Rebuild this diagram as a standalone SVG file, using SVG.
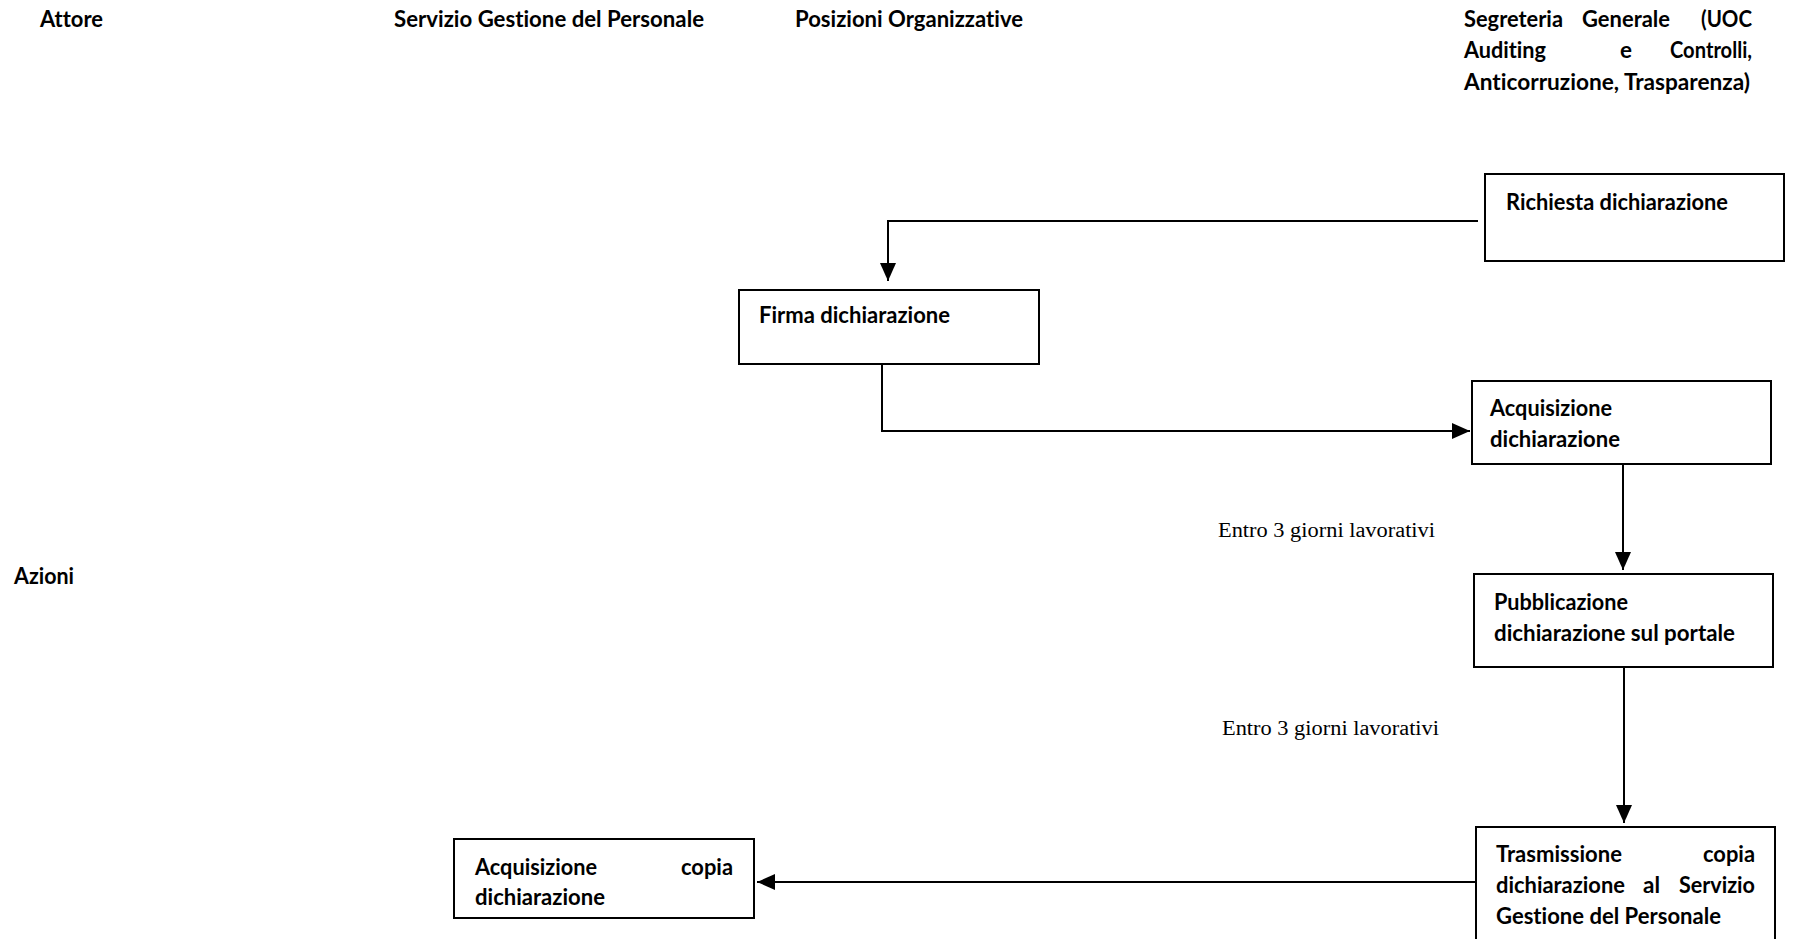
<svg xmlns="http://www.w3.org/2000/svg" width="1812" height="939" viewBox="0 0 1812 939">
<style>
.t{font-family:Lato,"Liberation Sans","DejaVu Sans",sans-serif;font-weight:bold;font-size:23px;fill:#000;font-variant-ligatures:none}
.s{font-family:"Liberation Serif","DejaVu Serif",serif;font-size:20px;fill:#000}
.box{fill:#fff;stroke:#000;stroke-width:2}
.c{fill:none;stroke:#000;stroke-width:2}
</style>
<defs>
<marker id="arr" markerUnits="userSpaceOnUse" markerWidth="18" markerHeight="16" refX="18" refY="8" orient="auto">
<path d="M0,0 L18,8 L0,16 Z" fill="#000"/>
</marker>
</defs>
<rect width="1812" height="939" fill="#fff"/>
<g id="headers">
<text class="t" x="40" y="27" textLength="63" lengthAdjust="spacingAndGlyphs">Attore</text>
<text class="t" x="394" y="27" textLength="310" lengthAdjust="spacingAndGlyphs">Servizio Gestione del Personale</text>
<text class="t" x="795" y="27" textLength="228" lengthAdjust="spacingAndGlyphs">Posizioni Organizzative</text>
<text class="t" x="1464" y="27" textLength="99" lengthAdjust="spacingAndGlyphs">Segreteria</text>
<text class="t" x="1582" y="27" textLength="88" lengthAdjust="spacingAndGlyphs">Generale</text>
<text class="t" x="1701" y="27" textLength="51" lengthAdjust="spacingAndGlyphs">(UOC</text>
<text class="t" x="1464" y="58" textLength="82" lengthAdjust="spacingAndGlyphs">Auditing</text>
<text class="t" x="1620" y="58" textLength="12" lengthAdjust="spacingAndGlyphs">e</text>
<text class="t" x="1670" y="58" textLength="82" lengthAdjust="spacingAndGlyphs">Controlli,</text>
<text class="t" x="1464" y="90" textLength="286" lengthAdjust="spacingAndGlyphs">Anticorruzione, Trasparenza)</text>
<text class="t" x="14" y="584" textLength="60" lengthAdjust="spacingAndGlyphs">Azioni</text>
</g>
<g id="connectors">
<path class="c" d="M1478,221 H888 V281" marker-end="url(#arr)"/>
<path class="c" d="M882,364 V431 H1470" marker-end="url(#arr)"/>
<path class="c" d="M1623,464 V570" marker-end="url(#arr)"/>
<path class="c" d="M1624,667 V823" marker-end="url(#arr)"/>
<path class="c" d="M1476,882 H757" marker-end="url(#arr)"/>
<text class="s" x="1218" y="537" textLength="217" lengthAdjust="spacingAndGlyphs">Entro 3 giorni lavorativi</text>
<text class="s" x="1222" y="735" textLength="217" lengthAdjust="spacingAndGlyphs">Entro 3 giorni lavorativi</text>
</g>
<g id="richiesta">
<rect class="box" x="1485" y="174" width="299" height="87"/>
<text class="t" x="1506" y="210" textLength="222" lengthAdjust="spacingAndGlyphs">Richiesta dichiarazione</text>
</g>
<g id="firma">
<rect class="box" x="739" y="290" width="300" height="74"/>
<text class="t" x="759" y="323" textLength="191" lengthAdjust="spacingAndGlyphs">Firma dichiarazione</text>
</g>
<g id="acquisizione">
<rect class="box" x="1472" y="381" width="299" height="83"/>
<text class="t" x="1490" y="416" textLength="122" lengthAdjust="spacingAndGlyphs">Acquisizione</text>
<text class="t" x="1490" y="447" textLength="130" lengthAdjust="spacingAndGlyphs">dichiarazione</text>
</g>
<g id="pubblicazione">
<rect class="box" x="1474" y="574" width="299" height="93"/>
<text class="t" x="1494" y="610" textLength="134" lengthAdjust="spacingAndGlyphs">Pubblicazione</text>
<text class="t" x="1494" y="641" textLength="241" lengthAdjust="spacingAndGlyphs">dichiarazione sul portale</text>
</g>
<g id="trasmissione">
<rect class="box" x="1476" y="827" width="299" height="130"/>
<text class="t" x="1496" y="862" textLength="126" lengthAdjust="spacingAndGlyphs">Trasmissione</text>
<text class="t" x="1703" y="862" textLength="52" lengthAdjust="spacingAndGlyphs">copia</text>
<text class="t" x="1496" y="893" textLength="129" lengthAdjust="spacingAndGlyphs">dichiarazione</text>
<text class="t" x="1643" y="893" textLength="17" lengthAdjust="spacingAndGlyphs">al</text>
<text class="t" x="1679" y="893" textLength="76" lengthAdjust="spacingAndGlyphs">Servizio</text>
<text class="t" x="1496" y="924" textLength="225" lengthAdjust="spacingAndGlyphs">Gestione del Personale</text>
</g>
<g id="acquisizione-copia">
<rect class="box" x="454" y="839" width="300" height="79"/>
<text class="t" x="475" y="875" textLength="122" lengthAdjust="spacingAndGlyphs">Acquisizione</text>
<text class="t" x="681" y="875" textLength="52" lengthAdjust="spacingAndGlyphs">copia</text>
<text class="t" x="475" y="905" textLength="130" lengthAdjust="spacingAndGlyphs">dichiarazione</text>
</g>
</svg>
